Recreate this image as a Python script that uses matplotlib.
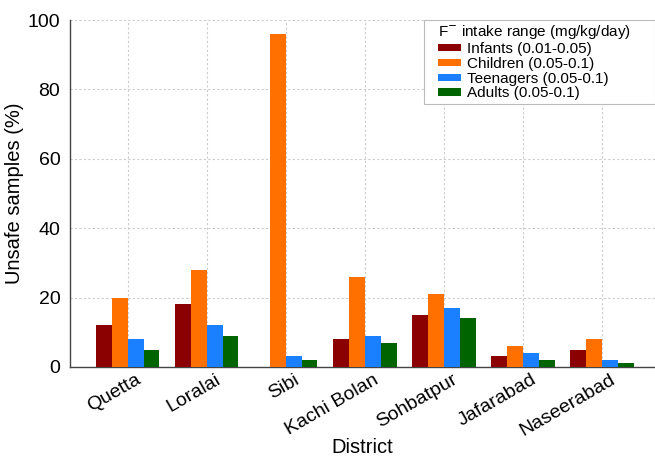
import numpy as np
import matplotlib
matplotlib.use("Agg")
import matplotlib.pyplot as plt
from matplotlib.patches import Rectangle
from matplotlib.transforms import ScaledTranslation

plt.rcParams['font.family'] = ['Liberation Sans', 'DejaVu Sans']

districts = ["Quetta", "Loralai", "Sibi", "Kachi Bolan", "Sohbatpur", "Jafarabad", "Naseerabad"]
infants = [12, 18, 0, 8, 15, 3, 5]
children = [20, 28, 96, 26, 21, 6, 8]
teenagers = [8, 12, 3, 9, 17, 4, 2]
adults = [5, 9, 2, 7, 14, 2, 1]

groups = [
    ("Infants (0.01-0.05)", infants, "#8b0000"),
    ("Children (0.05-0.1)", children, "#ff7000"),
    ("Teenagers (0.05-0.1)", teenagers, "#1a80ff"),
    ("Adults (0.05-0.1)", adults, "#006400"),
]

fig = plt.figure(figsize=(6.55, 4.58), dpi=100)
ax = fig.add_axes([0.107, 0.199, 0.893, 0.757])

x = np.arange(len(districts))
width = 0.2
for i, (name, vals, color) in enumerate(groups):
    ax.bar(x + (i - 1.5) * width, vals, width, color=color, label=name, zorder=3)

ax.set_xlim(-0.73, 6.67)
ax.set_ylim(0, 100)
ax.set_yticks([0, 20, 40, 60, 80, 100])
ax.set_xticks(x)
ax.set_xticklabels(districts, rotation=30, ha="right", va="top",
                   rotation_mode="anchor")
ax.tick_params(axis="y", labelsize=14, length=0, pad=7)
ax.tick_params(axis="x", labelsize=14, length=0, pad=3)
# nudge the rotated names so their ends sit just past each group centre
shift = ScaledTranslation(8 / 100, 0, fig.dpi_scale_trans)
for lbl in ax.get_xticklabels():
    lbl.set_transform(lbl.get_transform() + shift)

ax.grid(True, linestyle=(0, (2, 2)), color="#cccccc", linewidth=0.8, zorder=0)

for side in ("top", "right"):
    ax.spines[side].set_visible(False)
for side in ("left", "bottom"):
    ax.spines[side].set_color("#444444")
    ax.spines[side].set_linewidth(1.0)

ax.set_ylabel("Unsafe samples (%)", fontsize=14.5, labelpad=3)
ax.set_xlabel("District", fontsize=14.5, va="bottom")
ax.xaxis.set_label_coords(0.5, -0.259)

leg = ax.legend(title=r"F$^{-}$ intake range (mg/kg/day)", loc="upper left",
                bbox_to_anchor=(0.627, 0.995), fontsize=11, title_fontsize=11,
                frameon=False, handlelength=1.5, handleheight=0.35,
                handletextpad=0.35, labelspacing=0.05, borderpad=0.1,
                borderaxespad=0.0)
leg._legend_box.align = "left"
leg.set_zorder(5)

# frame around the legend, wider on the sides than on top and bottom
fig.canvas.draw()
ext = leg.get_window_extent()
frame = Rectangle((ext.x0 - 13, ext.y0 - 2), ext.width + 13 + 22, ext.height + 4,
                  transform=None, facecolor="white", edgecolor="#bbbbbb",
                  linewidth=0.8, zorder=4, clip_on=False)
ax.add_artist(frame)

fig.savefig("out.png", dpi=100)
